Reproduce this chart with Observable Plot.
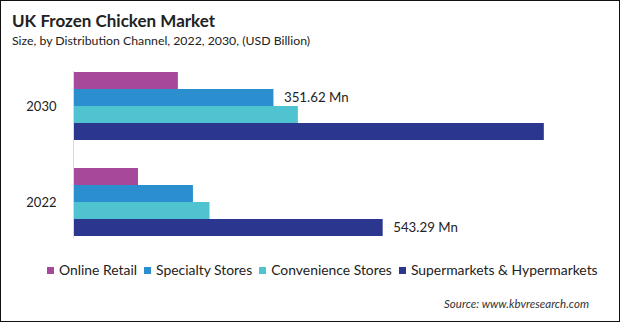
<!DOCTYPE html>
<html>
<head>
<meta charset="utf-8">
<script src="https://cdn.jsdelivr.net/npm/d3@7"></script>
<script src="https://cdn.jsdelivr.net/npm/@observablehq/plot@0.6"></script>
<style>
  html, body { margin: 0; padding: 0; background: #fff; }
  #wrap { position: relative; width: 620px; height: 322px; overflow: hidden; background: #fff; font-family: Lato, "Open Sans", sans-serif; color: #222; }
  #border { position: absolute; left: 0; top: 0; width: 620px; height: 322px; box-sizing: border-box; border: 1px solid #111; pointer-events: none; }
  #title { position: absolute; left: 12px; top: 11px; font-size: 17px; font-weight: bold; line-height: 20px; white-space: nowrap; }
  #subtitle { position: absolute; left: 12px; top: 33px; font-size: 12.3px; line-height: 16px; white-space: nowrap; }
  #chart { position: absolute; left: 0; top: 52px; }
  #legend { position: absolute; left: 47px; top: 262px; display: flex; align-items: center; font-size: 13.9px; line-height: 16px; white-space: nowrap; }
  #legend .item { display: flex; align-items: center; margin-right: 7px; }
  #legend .sw { width: 7px; height: 7px; margin-right: 5px; }
  #source { position: absolute; right: 31px; top: 297px; font-size: 11.5px; font-style: italic; line-height: 14px; color: #333; white-space: nowrap; }
</style>
</head>
<body>
<div id="wrap">
  <div id="title">UK Frozen Chicken Market</div>
  <div id="subtitle">Size, by Distribution Channel, 2022, 2030, (USD Billion)</div>
  <div id="chart"></div>
  <div id="legend"></div>
  <div id="source">Source: www.kbvresearch.com</div>
  <div id="border"></div>
</div>
<script>
const years = ["2030", "2022"];
const channels = ["Online Retail", "Specialty Stores", "Convenience Stores", "Supermarkets & Hypermarkets"];
const values2030 = [184, 351.62, 394.5, 826];
const values2022 = [114, 210.4, 239.5, 543.29];
const colors = ["#a6499a", "#2a8ecf", "#4fc3cf", "#2b378f"];
const labelYears = ["2030", "2022"];
const labelChannels = ["Specialty Stores", "Supermarkets & Hypermarkets"];
const labelTexts = ["351.62 Mn", "543.29 Mn"];

const data = [];
channels.forEach((c, i) => {
  data.push({year: "2030", channel: c, value: values2030[i]});
  data.push({year: "2022", channel: c, value: values2022[i]});
});
const labels = labelYears.map((y, i) => {
  const src = data.find(d => d.year === y && d.channel === labelChannels[i]);
  return {year: y, channel: labelChannels[i], value: src.value, text: labelTexts[i]};
});

const chart = Plot.plot({
  width: 620,
  height: 205,
  marginLeft: 73,
  marginRight: 34,
  marginTop: 5,
  marginBottom: 7,
  style: {fontFamily: "Lato, 'Open Sans', sans-serif", fontSize: "13px", color: "#222", background: "transparent"},
  x: {domain: [0, 900], axis: null},
  y: {domain: channels, padding: 0, axis: null},
  fy: {domain: years, paddingInner: 0.273, paddingOuter: 0.139, label: null, axis: null},
  color: {domain: channels, range: colors},
  marks: [
    Plot.barX(data, {x: "value", y: "channel", fy: "year", fill: "channel"}),
    Plot.frame({anchor: "left", facet: "super", stroke: "#d9d9d9", strokeWidth: 1}),
    Plot.axisFy({anchor: "left", tickSize: 0, tickPadding: 17, fontSize: 13, label: null}),
    Plot.text(labels, {x: "value", y: "channel", fy: "year", text: "text", dx: 10, textAnchor: "start", fontSize: 13.3, fill: "#222"})
  ]
});
document.getElementById("chart").appendChild(chart);

const legend = document.getElementById("legend");
channels.forEach((c, i) => {
  const item = document.createElement("div");
  item.className = "item";
  const sw = document.createElement("span");
  sw.className = "sw";
  sw.style.background = colors[i];
  const t = document.createElement("span");
  t.textContent = c;
  item.appendChild(sw);
  item.appendChild(t);
  legend.appendChild(item);
});
</script>
</body>
</html>
